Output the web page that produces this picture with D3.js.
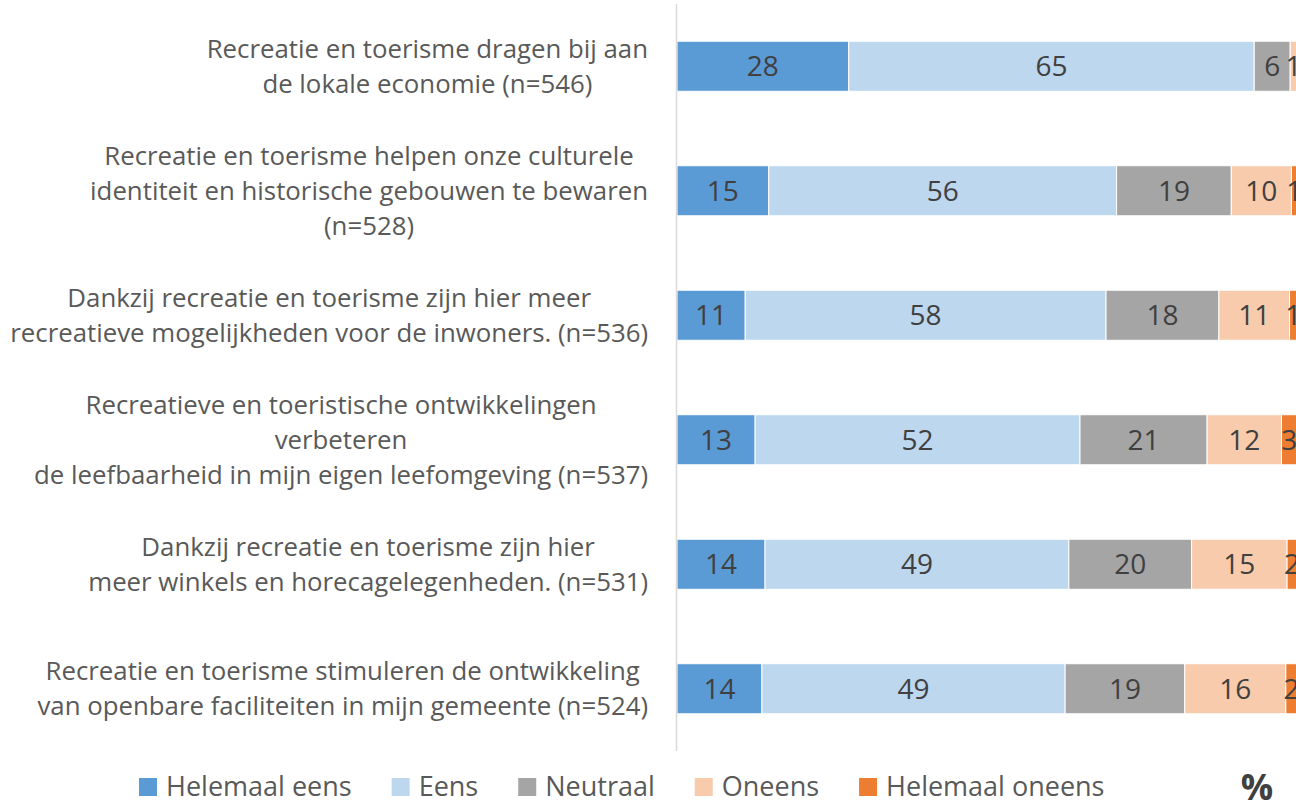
<!DOCTYPE html>
<html lang="nl">
<head>
<meta charset="UTF-8">
<title>Recreatie en toerisme</title>
<script src="https://d3js.org/d3.v7.min.js"></script>
<style>
    body { margin: 0; background: #fff; }
    svg { display: block; font-family: 'Open Sans', sans-serif; }
</style>
</head>
<body>
<svg id="chart" width="1296" height="801"></svg>
<script>
    // Categories (each entry = lines of the label)
    const categories = [
        ["Recreatie en toerisme dragen bij aan", "de lokale economie (n=546)"],
        ["Recreatie en toerisme helpen onze culturele", "identiteit en historische gebouwen te bewaren", "(n=528)"],
        ["Dankzij recreatie en toerisme zijn hier meer", "recreatieve mogelijkheden voor de inwoners. (n=536)"],
        ["Recreatieve en toeristische ontwikkelingen", "verbeteren", "de leefbaarheid in mijn eigen leefomgeving (n=537)"],
        ["Dankzij recreatie en toerisme zijn hier", "meer winkels en horecagelegenheden. (n=531)"],
        ["Recreatie en toerisme stimuleren de ontwikkeling", "van openbare faciliteiten in mijn gemeente (n=524)"]
    ];

    const seriesNames = ["Helemaal eens", "Eens", "Neutraal", "Oneens", "Helemaal oneens"];
    const seriesColors = ["#5b9bd5", "#bdd7ee", "#a5a5a5", "#f8cbad", "#ed7d31"];

    // percentages per series, one value per category
    const helemaalEens   = [27.7, 14.8, 11.0, 12.6, 14.2, 13.7];
    const eens           = [65.4, 56.1, 58.2, 52.4, 49.0, 48.9];
    const neutraal       = [5.8, 18.5, 18.2, 20.5, 19.8, 19.3];
    const oneens         = [1.1, 9.7, 11.4, 12.0, 15.4, 16.3];
    const helemaalOneens = [0, 0.9, 1.2, 2.5, 1.6, 1.8];

    const series = [helemaalEens, eens, neutraal, oneens, helemaalOneens];

    const svg = d3.select("#chart");

    const x = d3.scaleLinear().domain([0, 100]).range([677, 1297]);
    const y = d3.scaleBand().domain(d3.range(categories.length)).range([4, 751]).paddingInner(0.598).paddingOuter(0.299);

    // table for stacking
    const table = categories.map((c, i) => {
        const row = { idx: i };
        seriesNames.forEach((s, j) => row[s] = series[j][i]);
        return row;
    });
    const stacked = d3.stack().keys(seriesNames)(table);

    const layers = svg.append("g")
        .selectAll("g")
        .data(stacked)
        .join("g")
        .attr("fill", (d, i) => seriesColors[i]);

    layers.selectAll("rect")
        .data(d => d.filter(p => p[1] - p[0] > 0))
        .join("rect")
        .attr("x", d => x(d[0]))
        .attr("y", d => y(d.data.idx))
        .attr("width", d => x(d[1]) - x(d[0]))
        .attr("height", y.bandwidth())
        .attr("stroke", "#fff")
        .attr("stroke-width", 1);

    layers.selectAll("text")
        .data(d => d.filter(p => p[1] - p[0] > 0))
        .join("text")
        .attr("x", d => (x(d[0]) + x(d[1])) / 2)
        .attr("y", d => y(d.data.idx) + y.bandwidth() / 2)
        .attr("dy", "0.36em")
        .attr("text-anchor", "middle")
        .attr("fill", "#404040")
        .style("font-size", "28px")
        .text(d => Math.round(d[1] - d[0]));

    // vertical axis line
    svg.append("line")
        .attr("x1", 676.5).attr("x2", 676.5)
        .attr("y1", 4).attr("y2", 751)
        .attr("stroke", "#d9d9d9")
        .attr("stroke-width", 1.5);

    // category labels: lines centred on each other, block right-aligned
    const lineH = 35;
    const labelRight = 648;
    categories.forEach((lines, i) => {
        const g = svg.append("g");
        const cy = y(i) + y.bandwidth() / 2;
        const texts = lines.map((ln, k) => g.append("text")
            .attr("y", cy + (k - (lines.length - 1) / 2) * lineH)
            .attr("dy", "0.35em")
            .attr("text-anchor", "middle")
            .attr("fill", "#595959")
            .style("font-size", "25.8px")
            .text(ln));
        const maxW = d3.max(texts, t => t.node().getComputedTextLength());
        texts.forEach(t => t.attr("x", labelRight - maxW / 2));
    });

    // legend
    let lx = 139;
    const ly = 787;
    seriesNames.forEach((s, i) => {
        svg.append("rect")
            .attr("x", lx).attr("y", ly - 9)
            .attr("width", 18).attr("height", 18)
            .attr("fill", seriesColors[i]);
        const t = svg.append("text")
            .attr("x", lx + 27).attr("y", ly)
            .attr("dy", "0.35em")
            .attr("fill", "#595959")
            .style("font-size", "27px")
            .text(s);
        lx += 27 + t.node().getComputedTextLength() + 40;
    });

    svg.append("text")
        .attr("x", 1257).attr("y", 787)
        .attr("dy", "0.35em")
        .attr("text-anchor", "middle")
        .attr("fill", "#404040")
        .style("font-size", "36px")
        .style("font-weight", "bold")
        .text("%");
</script>
</body>
</html>
